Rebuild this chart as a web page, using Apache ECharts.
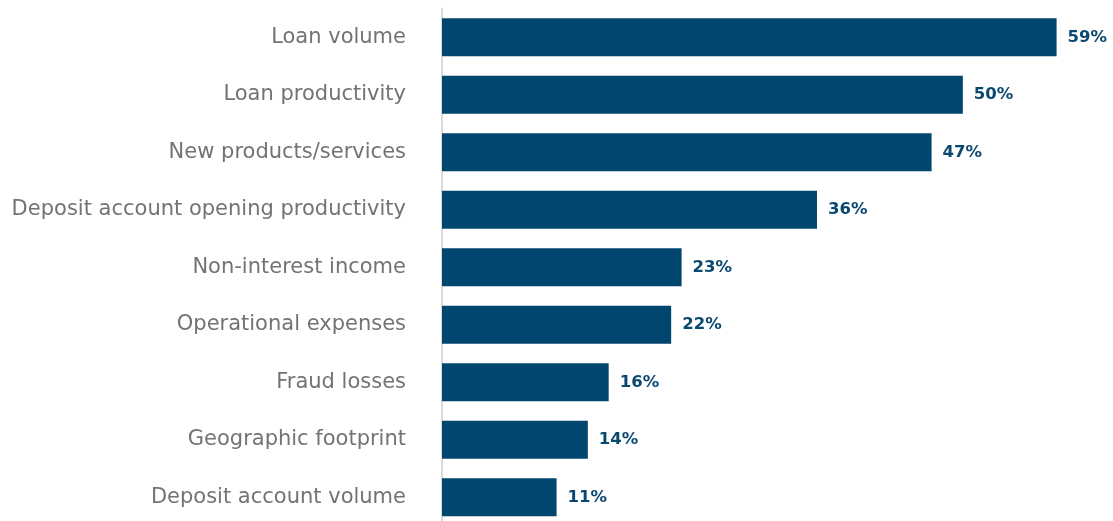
<!DOCTYPE html>
<html>
<head>
<meta charset="utf-8">
<style>
  html, body { margin: 0; padding: 0; background: #ffffff; overflow: hidden; }
  #chart { width: 1113px; height: 528px; }
</style>
<script src="https://cdn.jsdelivr.net/npm/echarts@6/dist/echarts.min.js"></script>
</head>
<body>
<div id="chart"></div>
<script>
const categories = [
  'Loan volume',
  'Loan productivity',
  'New products/services',
  'Deposit account opening productivity',
  'Non-interest income',
  'Operational expenses',
  'Fraud losses',
  'Geographic footprint',
  'Deposit account volume'
];
const shares = [59, 50, 47, 36, 23, 22, 16, 14, 11];

const chart = echarts.init(document.getElementById('chart'), null, { renderer: 'canvas' });
chart.setOption({
  animation: false,
  // plot area runs slightly past the bottom edge of the visible page
  grid: { left: 442, top: 8.5, width: 625, height: 517.5, containLabel: false },
  xAxis: {
    type: 'value', min: 0, max: 60,
    show: false
  },
  yAxis: {
    type: 'category',
    data: categories,
    inverse: true,
    axisLine: { show: true, lineStyle: { color: '#cfcfcf', width: 1.5 } },
    axisTick: { show: false },
    axisLabel: {
      margin: 36,
      color: '#727376',
      fontFamily: 'DejaVu Sans',
      fontSize: 21
    }
  },
  series: [{
    type: 'bar',
    data: shares,
    barWidth: 38,
    itemStyle: { color: '#00466e' },
    label: {
      show: true,
      position: 'right',
      distance: 11,
      formatter: p => p.value + '%',
      color: '#0b4870',
      fontFamily: 'DejaVu Sans',
      fontWeight: 'bold',
      fontSize: 16.5
    }
  }]
});
</script>
</body>
</html>
